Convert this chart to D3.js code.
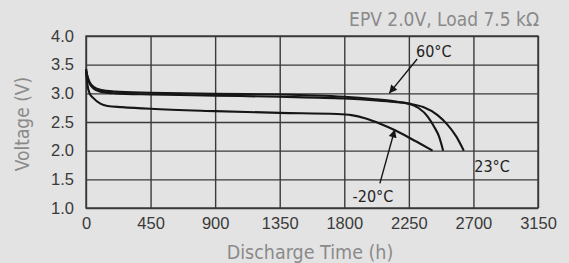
<!DOCTYPE html>
<html>
<head>
<meta charset="utf-8">
<script src="https://cdn.jsdelivr.net/npm/d3@7"></script>
<style>
  html, body { margin: 0; padding: 0; background: #e3e3e3; }
  svg { display: block; font-family: "DejaVu Sans Condensed", "DejaVu Sans", sans-serif; font-stretch: condensed; }
</style>
</head>
<body>
<svg id="chart" width="569" height="263"></svg>
<script>
// discharge curves, hours vs volts
var curve23 = [[0,3.42],[10,3.3],[25,3.2],[50,3.12],[100,3.06],[200,3.03],[450,3.01],[900,2.99],[1350,2.98],[1800,2.94],[2000,2.9],[2150,2.86],[2250,2.82],[2350,2.76],[2450,2.62],[2520,2.45],[2580,2.25],[2633,2.0]];
var curve60 = [[0,3.42],[10,3.28],[25,3.17],[50,3.09],[100,3.03],[200,3.0],[450,2.98],[900,2.96],[1350,2.94],[1800,2.91],[2000,2.88],[2150,2.85],[2250,2.82],[2320,2.74],[2380,2.6],[2430,2.4],[2460,2.25],[2489,2.0]];
var curveM20 = [[0,3.38],[10,3.15],[25,3.0],[50,2.92],[100,2.82],[150,2.78],[250,2.76],[450,2.73],[900,2.69],[1350,2.66],[1750,2.64],[1850,2.62],[1950,2.56],[2050,2.47],[2150,2.36],[2250,2.23],[2330,2.12],[2415,2.0]];

var xTicks = [0, 450, 900, 1350, 1800, 2250, 2700, 3150];
var yTicks = [1.0, 1.5, 2.0, 2.5, 3.0, 3.5, 4.0];

// label position, arrow start, arrow tip (data units)
var notes = [
  { text: "60°C", at: [2424, 3.74], from: [2308, 3.6], to: [2113, 3.0] },
  { text: "23°C", at: [2830, 1.73], from: null, to: null },
  { text: "-20°C", at: [2000, 1.2], from: [2048, 1.43], to: [2152, 2.37] }
];

var svg = d3.select("#chart");
var margin = { left: 86, right: 31, top: 36, bottom: 55 };
var w = 569 - margin.left - margin.right,
    h = 263 - margin.top - margin.bottom;

var x = d3.scaleLinear().domain([0, 3150]).range([0, w]);
var y = d3.scaleLinear().domain([1, 4]).range([h, 0]);

var g = svg.append("g").attr("transform", "translate(" + margin.left + "," + margin.top + ")");

var gridColor = "#3a3a3a";

g.append("g")
  .attr("transform", "translate(0," + h + ")")
  .call(d3.axisBottom(x).tickValues(xTicks).tickSize(-h).tickPadding(9).tickFormat(d3.format("d")))
  .call(function (a) {
    a.select(".domain").remove();
    a.selectAll("line").attr("stroke", gridColor).attr("stroke-width", 1.4);
    a.selectAll("text").attr("fill", "#3a3a3a").style("font-size", "16.5px").attr("font-family", null);
  });

g.append("g")
  .call(d3.axisLeft(y).tickValues(yTicks).tickSize(-w).tickPadding(12).tickFormat(d3.format(".1f")))
  .call(function (a) {
    a.select(".domain").remove();
    a.selectAll("line").attr("stroke", gridColor).attr("stroke-width", 1.4);
    a.selectAll("text").attr("fill", "#3a3a3a").style("font-size", "16.5px").attr("font-family", null);
  });

g.append("rect")
  .attr("width", w).attr("height", h)
  .attr("fill", "none").attr("stroke", gridColor).attr("stroke-width", 1.4);

var line = d3.line()
  .x(function (d) { return x(d[0]); })
  .y(function (d) { return y(d[1]); })
  .curve(d3.curveMonotoneX);

g.selectAll(".curve")
  .data([curveM20, curve60, curve23])
  .enter().append("path")
  .attr("class", "curve")
  .attr("d", line)
  .attr("fill", "none")
  .attr("stroke", "#161616")
  .attr("stroke-width", 2.1);

// arrows
svg.append("defs").append("marker")
  .attr("id", "head")
  .attr("viewBox", "0 0 10 10")
  .attr("refX", 10).attr("refY", 5)
  .attr("markerWidth", 11).attr("markerHeight", 8)
  .attr("markerUnits", "userSpaceOnUse")
  .attr("orient", "auto")
  .append("path").attr("d", "M0,0L10,5L0,10Z").attr("fill", "#161616");

notes.forEach(function (n) {
  if (n.from) {
    g.append("line")
      .attr("x1", x(n.from[0])).attr("y1", y(n.from[1]))
      .attr("x2", x(n.to[0])).attr("y2", y(n.to[1]))
      .attr("stroke", "#161616").attr("stroke-width", 1.4)
      .attr("marker-end", "url(#head)");
  }
  g.append("text")
    .attr("x", x(n.at[0])).attr("y", y(n.at[1]))
    .attr("text-anchor", "middle").attr("dy", "0.36em")
    .attr("fill", "#222").style("font-size", "16px")
    .text(n.text);
});

// titles
svg.append("text")
  .attr("x", margin.left + w + 1).attr("y", 26)
  .attr("text-anchor", "end")
  .attr("fill", "#8a8a8a").style("font-size", "19px")
  .text("EPV 2.0V, Load 7.5 kΩ");

svg.append("text")
  .attr("x", margin.left + w / 2 - 2).attr("y", 259)
  .attr("text-anchor", "middle")
  .attr("fill", "#8a8a8a").style("font-size", "19.5px")
  .text("Discharge Time (h)");

svg.append("text")
  .attr("transform", "translate(29," + (margin.top + h / 2 + 2) + ") rotate(-90)")
  .attr("text-anchor", "middle")
  .attr("fill", "#8a8a8a").style("font-size", "19px")
  .text("Voltage (V)");
</script>
</body>
</html>
